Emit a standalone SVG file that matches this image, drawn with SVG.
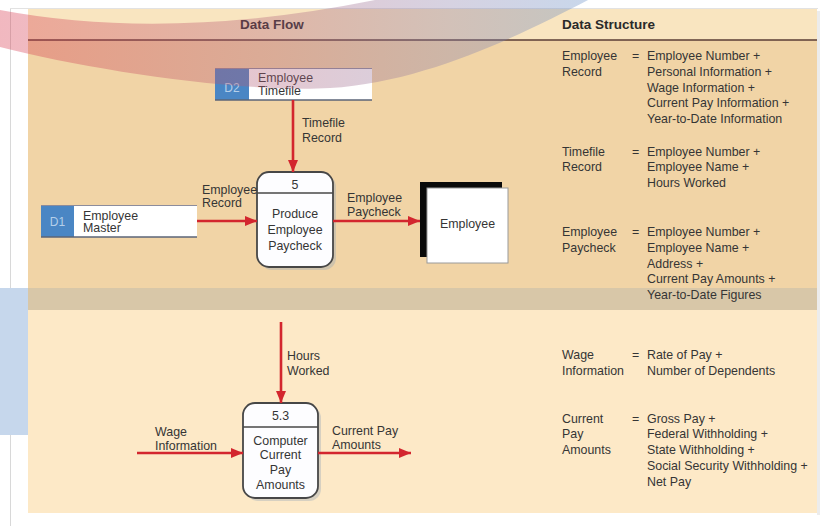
<svg xmlns="http://www.w3.org/2000/svg" width="823" height="526" viewBox="0 0 823 526">
<defs>
<style>
.t{font-family:'Liberation Sans',Arial,sans-serif;font-size:12.4px;fill:#353535}
.h{font-family:'Liberation Sans',Arial,sans-serif;font-size:13.5px;font-weight:bold;fill:#2a2a2a}
.id{font-family:'Liberation Sans',Arial,sans-serif;font-size:12px;fill:#b5cfe9}
.flow{stroke:#d3262e;stroke-width:2.6;fill:none;marker-end:url(#ah)}
.proc{fill:#fdfdff;stroke:#474747;stroke-width:1.8}
.shadow{fill:#8fa3b8;opacity:0.35}
.idbox{fill:#4a86c4}
.store{fill:#ffffff}
</style>
<marker id="ah" viewBox="0 0 12 10" refX="12" refY="5" markerWidth="12" markerHeight="10" markerUnits="userSpaceOnUse" orient="auto">
<path d="M0,0 L12,5 L0,10 Z" fill="#d3262e"/>
</marker>
<linearGradient id="arcg" gradientUnits="userSpaceOnUse" x1="0" y1="0" x2="600" y2="0">
<stop offset="0" stop-color="#d8344a"/>
<stop offset="0.45" stop-color="#b0607a"/>
<stop offset="0.75" stop-color="#8a7eaa"/>
<stop offset="1" stop-color="#5f8dc8"/>
</linearGradient>
</defs>

<g id="background">
<rect x="0" y="0" width="823" height="526" fill="#ffffff"/>
<line x1="10.5" y1="9" x2="10.5" y2="526" stroke="#d8d8d8" stroke-width="1"/>
<line x1="10" y1="8.5" x2="818" y2="8.5" stroke="#e2e2e2" stroke-width="1"/>
<rect x="817" y="11" width="3" height="504" fill="#ececec"/>
<rect x="28" y="9" width="789" height="504" fill="#fde9c7"/>
<rect x="28" y="9" width="789" height="31" fill="#f9e5c0"/>
<rect x="28" y="40" width="789" height="270" fill="#f1d4a6"/>
<rect x="28" y="288" width="789" height="22" fill="#5f87b4" fill-opacity="0.17"/>
<rect x="0" y="288" width="28" height="147" fill="#c6d7ec"/>
<line x1="28" y1="40" x2="817" y2="40" stroke="#5a3c34" stroke-width="1.6"/>
<text class="h" x="272" y="29" text-anchor="middle">Data Flow</text>
<text class="h" x="562" y="29">Data Structure</text>
</g>

<g id="d2">
<rect class="store" x="249" y="68" width="123" height="32"/>
<rect class="idbox" x="215" y="68" width="34" height="32"/>
<line x1="215" y1="68.5" x2="372" y2="68.5" stroke="#8c8c9c" stroke-width="1.2"/>
<line x1="215" y1="100" x2="372" y2="100" stroke="#5b6477" stroke-width="1.6"/>
<text class="id" x="232" y="92" text-anchor="middle">D2</text>
<text class="t" x="258" y="81.5">Employee</text>
<text class="t" x="258" y="94.5">Timefile</text>
</g>

<g id="d1">
<rect class="store" x="74" y="205" width="123" height="32"/>
<rect class="idbox" x="41" y="205" width="33" height="32"/>
<line x1="41" y1="205.5" x2="197" y2="205.5" stroke="#8c8c9c" stroke-width="1.2"/>
<line x1="41" y1="237" x2="197" y2="237" stroke="#5b6477" stroke-width="1.6"/>
<text class="id" x="57.5" y="226" text-anchor="middle">D1</text>
<text class="t" x="83" y="219.5">Employee</text>
<text class="t" x="83" y="232">Master</text>
</g>

<g id="p5">
<rect class="shadow" x="260" y="175" width="76" height="95" rx="12"/>
<rect class="proc" x="257" y="172" width="76" height="95" rx="12"/>
<line x1="257" y1="193" x2="333" y2="193" stroke="#474747" stroke-width="1.5"/>
<text class="t" x="295" y="188.5" text-anchor="middle">5</text>
<text class="t" x="295" y="217.5" text-anchor="middle">Produce</text>
<text class="t" x="295" y="233.5" text-anchor="middle">Employee</text>
<text class="t" x="295" y="249.5" text-anchor="middle">Paycheck</text>
</g>

<g id="employee">
<rect x="420" y="182" width="82" height="75" fill="#0a0a0a"/>
<rect x="427" y="188" width="81" height="75" fill="#ffffff" stroke="#9a9a9a" stroke-width="1"/>
<text class="t" x="467.5" y="228" text-anchor="middle">Employee</text>
</g>

<g id="p53">
<rect class="shadow" x="246" y="406" width="75" height="95" rx="12"/>
<rect class="proc" x="243" y="403" width="75" height="95" rx="12"/>
<line x1="243" y1="427" x2="318" y2="427" stroke="#474747" stroke-width="1.5"/>
<text class="t" x="280.5" y="419.5" text-anchor="middle">5.3</text>
<text class="t" x="280.5" y="444.5" text-anchor="middle">Computer</text>
<text class="t" x="280.5" y="459" text-anchor="middle">Current</text>
<text class="t" x="280.5" y="474" text-anchor="middle">Pay</text>
<text class="t" x="280.5" y="489" text-anchor="middle">Amounts</text>
</g>

<g id="connectors">
<path class="flow" d="M293,100 L293,172"/>
<path class="flow" d="M197,221 L257,221"/>
<path class="flow" d="M333,221 L420,221"/>
<path class="flow" d="M281,322 L281,403"/>
<path class="flow" d="M137,453 L243,453"/>
<path class="flow" d="M318,453 L411,453"/>
<text class="t" x="302" y="126.5">Timefile</text>
<text class="t" x="302" y="141.5">Record</text>
<text class="t" x="202" y="193.5">Employee</text>
<text class="t" x="202" y="207">Record</text>
<text class="t" x="347" y="201.5">Employee</text>
<text class="t" x="347" y="215.5">Paycheck</text>
<text class="t" x="287" y="359.5">Hours</text>
<text class="t" x="287" y="374.5">Worked</text>
<text class="t" x="155" y="435.5">Wage</text>
<text class="t" x="155" y="449.5">Information</text>
<text class="t" x="332" y="435">Current Pay</text>
<text class="t" x="332" y="449">Amounts</text>
</g>

<g id="data-structure">
<text class="t" x="562" y="60">Employee<tspan x="562" dy="15.8">Record</tspan></text>
<text class="t" x="632" y="60">=</text>
<text class="t" x="647" y="60">Employee Number +<tspan x="647" dy="15.8">Personal Information +</tspan><tspan x="647" dy="15.8">Wage Information +</tspan><tspan x="647" dy="15.8">Current Pay Information +</tspan><tspan x="647" dy="15.8">Year-to-Date Information</tspan></text>

<text class="t" x="562" y="155.5">Timefile<tspan x="562" dy="15.8">Record</tspan></text>
<text class="t" x="632" y="155.5">=</text>
<text class="t" x="647" y="155.5">Employee Number +<tspan x="647" dy="15.8">Employee Name +</tspan><tspan x="647" dy="15.8">Hours Worked</tspan></text>

<text class="t" x="562" y="236">Employee<tspan x="562" dy="15.8">Paycheck</tspan></text>
<text class="t" x="632" y="236">=</text>
<text class="t" x="647" y="236">Employee Number +<tspan x="647" dy="15.8">Employee Name +</tspan><tspan x="647" dy="15.8">Address +</tspan><tspan x="647" dy="15.8">Current Pay Amounts +</tspan><tspan x="647" dy="15.8">Year-to-Date Figures</tspan></text>

<text class="t" x="562" y="359">Wage<tspan x="562" dy="15.8">Information</tspan></text>
<text class="t" x="632" y="359">=</text>
<text class="t" x="647" y="359">Rate of Pay +<tspan x="647" dy="15.8">Number of Dependents</tspan></text>

<text class="t" x="562" y="422.5">Current<tspan x="562" dy="15.8">Pay</tspan><tspan x="562" dy="15.8">Amounts</tspan></text>
<text class="t" x="632" y="422.5">=</text>
<text class="t" x="647" y="422.5">Gross Pay +<tspan x="647" dy="15.8">Federal Withholding +</tspan><tspan x="647" dy="15.8">State Withholding +</tspan><tspan x="647" dy="15.8">Social Security Withholding +</tspan><tspan x="647" dy="15.8">Net Pay</tspan></text>
</g>

<g id="overlay">
<path d="M0,10 Q170,42 380,-1 L590,-1 C530,30 430,82 330,88 C240,93 90,70 0,47 Z" fill="url(#arcg)" fill-opacity="0.35"/>
</g>
</svg>
